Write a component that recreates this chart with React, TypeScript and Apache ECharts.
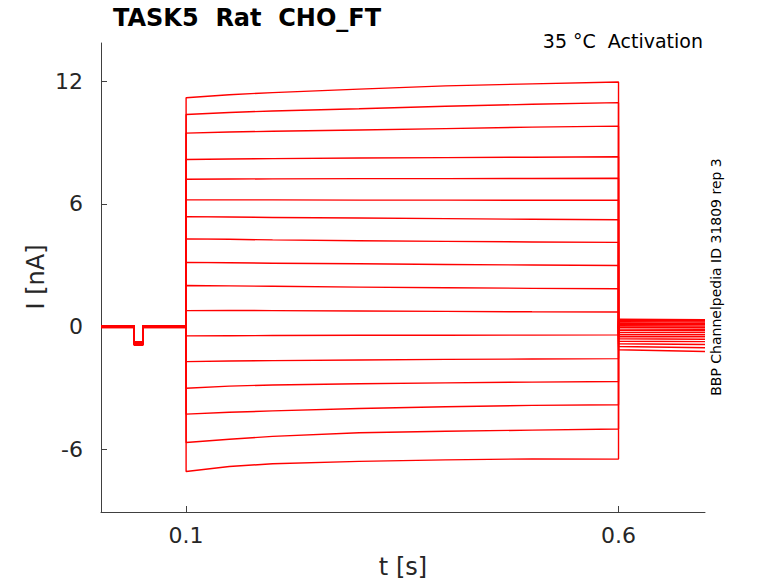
import React, { useEffect, useRef } from "react";
import * as echarts from "echarts";

// ---- data ----
const STEP_TIMES = [0.1, 0.15, 0.2, 0.3, 0.4, 0.5, 0.6];

const sweep01 = [11.2, 11.35, 11.45, 11.62, 11.78, 11.88, 11.97];
const sweep02 = [10.38, 10.48, 10.55, 10.66, 10.78, 10.88, 10.96];
const sweep03 = [9.47, 9.52, 9.56, 9.62, 9.69, 9.76, 9.81];
const sweep04 = [8.18, 8.2, 8.22, 8.25, 8.27, 8.29, 8.31];
const sweep05 = [7.21, 7.22, 7.23, 7.24, 7.24, 7.25, 7.26];
const sweep06 = [6.2, 6.2, 6.2, 6.19, 6.19, 6.18, 6.18];
const sweep07 = [5.38, 5.36, 5.34, 5.31, 5.28, 5.25, 5.23];
const sweep08 = [4.29, 4.27, 4.24, 4.2, 4.17, 4.14, 4.12];
const sweep09 = [3.14, 3.12, 3.1, 3.07, 3.04, 3.01, 2.99];
const sweep10 = [2.01, 1.99, 1.97, 1.93, 1.9, 1.87, 1.85];
const sweep11 = [0.78, 0.79, 0.78, 0.76, 0.74, 0.72, 0.71];
const sweep12 = [-0.46, -0.45, -0.44, -0.43, -0.43, -0.42, -0.41];
const sweep13 = [-1.72, -1.69, -1.67, -1.64, -1.61, -1.59, -1.57];
const sweep14 = [-3.02, -2.92, -2.86, -2.8, -2.76, -2.72, -2.69];
const sweep15 = [-4.29, -4.2, -4.13, -4.01, -3.93, -3.86, -3.83];
const sweep16 = [-5.68, -5.52, -5.38, -5.2, -5.13, -5.07, -5.02];
const sweep17 = [-7.1, -6.85, -6.72, -6.6, -6.53, -6.48, -6.49];

const SWEEPS = [
  sweep01, sweep02, sweep03, sweep04, sweep05, sweep06, sweep07, sweep08, sweep09,
  sweep10, sweep11, sweep12, sweep13, sweep14, sweep15, sweep16, sweep17,
];

// holding and test-pulse levels before the step (slight spread between sweeps)
const HOLD_LEVELS = [0.03, -0.04, 0.01, -0.02, 0.04, -0.05, 0.0, 0.02, -0.03, 0.03, -0.01, -0.04, 0.02, 0.0, -0.02, 0.04, -0.05];
const PULSE_LEVELS = [-0.74, -0.9, -0.78, -0.86, -0.8, -0.92, -0.76, -0.84, -0.88, -0.79, -0.83, -0.75, -0.91, -0.81, -0.87, -0.77, -0.85];

// tail current after the step (start at 0.6 s, end at 0.7 s)
const TAIL_START = [-1.14, -0.98, -0.84, -0.72, -0.6, -0.5, -0.4, -0.3, -0.2, -0.12, -0.04, 0.04, 0.1, 0.17, 0.24, 0.3, 0.36];
const TAIL_END = [-1.22, -1.04, -0.88, -0.74, -0.62, -0.5, -0.4, -0.3, -0.21, -0.13, -0.05, 0.02, 0.09, 0.15, 0.22, 0.28, 0.34];

const T_START = 0.0016;
const T_PULSE_ON = 0.04;
const T_PULSE_OFF = 0.05;
const T_END = 0.7;

const X_TICKS = [0.1, 0.6];
const Y_TICKS = [-6, 0, 6, 12];
const Y_MIN = -9.08;
const Y_MAX = 13.88;

const TEXT = "#262626";
const FONT = "DejaVu Sans";

export default function App() {
  const ref = useRef<HTMLDivElement>(null);

  useEffect(() => {
    if (!ref.current) return;
    const chart = echarts.init(ref.current, undefined, { renderer: "svg" });

    const series = SWEEPS.map((sw, i) => {
      const h = HOLD_LEVELS[i];
      const p = PULSE_LEVELS[i];
      const data: number[][] = [
        [T_START, h],
        [T_PULSE_ON, h],
        [T_PULSE_ON, p],
        [T_PULSE_OFF, p],
        [T_PULSE_OFF, h],
        [STEP_TIMES[0], h],
      ];
      STEP_TIMES.forEach((t, k) => data.push([t, sw[k]]));
      data.push([STEP_TIMES[STEP_TIMES.length - 1], TAIL_START[i]]);
      data.push([T_END, TAIL_END[i]]);
      return {
        type: "line",
        data,
        showSymbol: false,
        symbol: "none",
        lineStyle: { color: "#ff0000", width: 1.4 },
        silent: true,
        clip: true,
      };
    });

    chart.setOption({
      animation: false,
      grid: { left: 101, top: 43, right: 73, bottom: 71, containLabel: false },
      xAxis: {
        type: "value",
        min: T_START,
        max: T_END,
        splitLine: { show: false },
        axisLine: { show: true, onZero: false, lineStyle: { color: "#404040", width: 1 } },
        axisTick: { show: true, inside: true, length: 6, customValues: X_TICKS, lineStyle: { color: "#404040" } },
        axisLabel: {
          customValues: X_TICKS,
          formatter: (v: number) => String(v),
          color: TEXT,
          fontSize: 22,
          fontFamily: FONT,
          margin: 12,
        },
      },
      yAxis: {
        type: "value",
        min: Y_MIN,
        max: Y_MAX,
        splitLine: { show: false },
        axisLine: { show: true, onZero: false, lineStyle: { color: "#404040", width: 1 } },
        axisTick: { show: true, inside: true, length: 6, customValues: Y_TICKS, lineStyle: { color: "#404040" } },
        axisLabel: {
          customValues: Y_TICKS,
          formatter: (v: number) => String(v),
          color: TEXT,
          fontSize: 22,
          fontFamily: FONT,
          margin: 18,
        },
      },
      graphic: [
        {
          type: "text",
          x: 113,
          y: 18,
          style: { text: "TASK5  Rat  CHO_FT", fill: "#000", font: `bold 24px "${FONT}"`, align: "left", verticalAlign: "middle" },
        },
        {
          type: "text",
          x: 703,
          y: 41,
          style: { text: "35 °C  Activation", fill: "#000", font: `19px "${FONT}"`, align: "right", verticalAlign: "middle" },
        },
        {
          type: "text",
          x: 716,
          y: 277,
          rotation: Math.PI / 2,
          style: { text: "BBP Channelpedia ID 31809 rep 3", fill: "#000", font: `14px "${FONT}"`, align: "center", verticalAlign: "middle" },
        },
        {
          type: "text",
          x: 36,
          y: 277,
          rotation: Math.PI / 2,
          style: { text: "I [nA]", fill: TEXT, font: `24px "${FONT}"`, align: "center", verticalAlign: "middle" },
        },
        {
          type: "text",
          x: 403,
          y: 567,
          style: { text: "t [s]", fill: TEXT, font: `24px "${FONT}"`, align: "center", verticalAlign: "middle" },
        },
      ],
      series,
    });

    return () => chart.dispose();
  }, []);

  return (
    <div
      ref={ref}
      style={{ position: "fixed", left: 0, top: 0, width: 778, height: 583, background: "#fff" }}
    />
  );
}
